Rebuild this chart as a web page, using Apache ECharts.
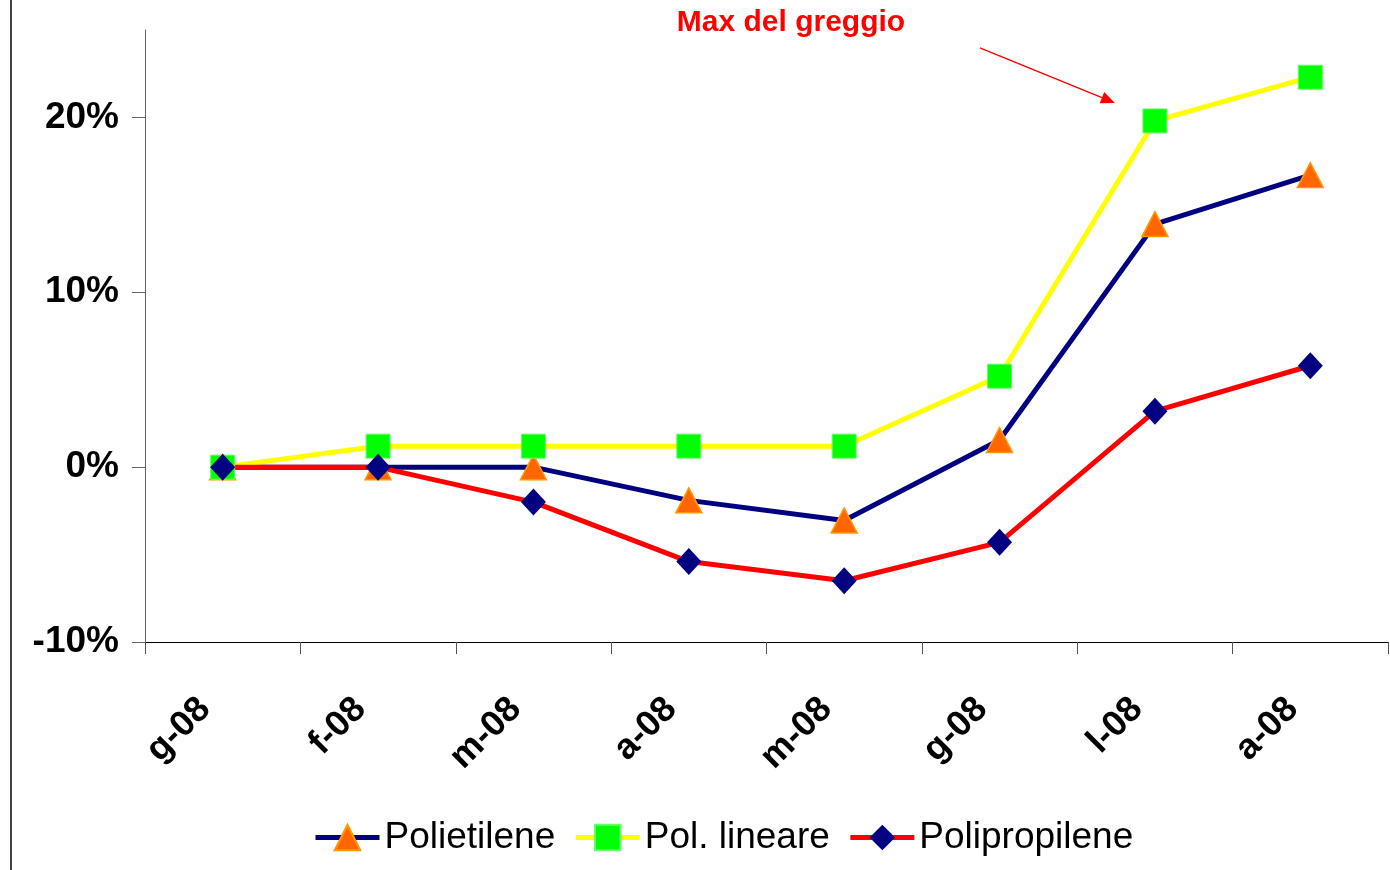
<!DOCTYPE html>
<html><head><meta charset="utf-8">
<script src="https://cdn.jsdelivr.net/npm/echarts@6/dist/echarts.min.js"></script>
<style>html,body{margin:0;padding:0;background:#fff}#c{width:1390px;height:870px}</style>
</head><body><div id="c"></div>
<script>
const categories = ['g-08','f-08','m-08','a-08','m-08','g-08','l-08','a-08'];
const polietilene = [0, 0, 0, -1.9, -3.05, 1.55, 13.9, 16.7];
const polLineare = [0, 1.2, 1.2, 1.2, 1.2, 5.2, 19.8, 22.3];
const polipropilene = [0, 0, -2.0, -5.4, -6.5, -4.3, 3.2, 5.8];
const yTicks = [-10, 0, 10, 20];
const annotation = 'Max del greggio';

const FONT = 'Liberation Sans, Arial, sans-serif';
const chart = echarts.init(document.getElementById('c'));
chart.setOption({
  animation: false,
  backgroundColor: '#fff',
  grid: {left: 145, right: 2, top: 30, bottom: 228, containLabel: false},
  legend: {
    left: 308, top: 814, itemWidth: 64, itemHeight: 32, itemGap: 18,
    lineStyle: {width: 5},
    textStyle: {fontFamily: FONT, fontSize: 37, color: '#000'},
    data: ['Polietilene', 'Pol. lineare', 'Polipropilene']
  },
  xAxis: {
    type: 'category', data: categories, boundaryGap: true,
    axisLine: {onZero: false, lineStyle: {color: '#000', width: 1}},
    axisTick: {show: true, length: 12, alignWithLabel: false, lineStyle: {color: '#555'}},
    axisLabel: {rotate: 45, fontFamily: FONT, fontWeight: 'bold', fontSize: 36, color: '#000', margin: 44,
      padding: [0, 25, 0, 0], interval: 0},
    splitLine: {show: false}
  },
  yAxis: {
    type: 'value', min: -10, max: 25, interval: 10,
    axisLine: {show: true, lineStyle: {color: '#666', width: 1}},
    axisTick: {show: true, length: 13, lineStyle: {color: '#666'}, customValues: yTicks},
    axisLabel: {fontFamily: FONT, fontWeight: 'bold', fontSize: 37, color: '#000', margin: 26,
      padding: [5, 0, 0, 0], customValues: yTicks, formatter: v => v + '%'},
    splitLine: {show: false}
  },
  series: [
    {name: 'Polietilene', type: 'line', data: polietilene, symbol: 'triangle', symbolSize: [26, 25],
      lineStyle: {color: '#000080', width: 5}, itemStyle: {color: '#FF6600', borderColor: '#FF9900', borderWidth: 1.5}},
    {name: 'Pol. lineare', type: 'line', data: polLineare, symbol: 'rect', symbolSize: 24,
      lineStyle: {color: '#FFFF00', width: 5}, itemStyle: {color: '#00FF00', borderColor: '#66FF66', borderWidth: 1}},
    {name: 'Polipropilene', type: 'line', data: polipropilene, symbol: 'diamond', symbolSize: [25, 27],
      lineStyle: {color: '#FF0000', width: 5}, itemStyle: {color: '#000080', borderColor: '#000080', borderWidth: 0}}
  ]
});

const p = chart.convertToPixel({xAxisIndex: 0, yAxisIndex: 0}, [6, polLineare[6]]);
const sx = p[0] - 175, sy = p[1] - 73, ex = p[0] - 40, ey = p[1] - 18;
const ang = Math.atan2(ey - sy, ex - sx);
const hl = 14, hw = 6;
const bx = ex - hl * Math.cos(ang), by = ey - hl * Math.sin(ang);
chart.setOption({
  graphic: [
    {type: 'line', shape: {x1: 11, y1: 0, x2: 11, y2: 870}, style: {stroke: '#444', lineWidth: 2}},
    {type: 'text', style: {text: annotation, x: 791, y: 23, align: 'center', verticalAlign: 'middle',
      font: 'bold 30px Liberation Sans, Arial, sans-serif', fill: '#FF0000'}},
    {type: 'line', shape: {x1: sx, y1: sy, x2: bx, y2: by}, style: {stroke: '#FF0000', lineWidth: 1.5}},
    {type: 'polygon', shape: {points: [[ex, ey],
      [bx - hw * Math.sin(ang), by + hw * Math.cos(ang)],
      [bx + hw * Math.sin(ang), by - hw * Math.cos(ang)]]}, style: {fill: '#FF0000'}}
  ]
});
</script></body></html>
